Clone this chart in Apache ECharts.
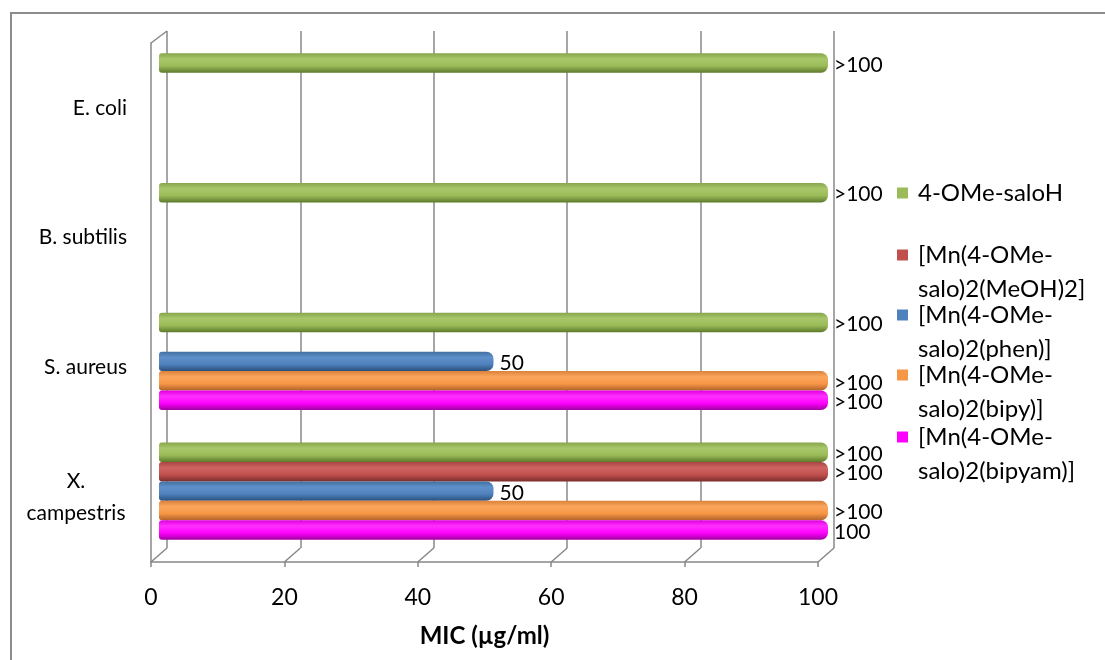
<!DOCTYPE html>
<html>
<head>
<meta charset="utf-8">
<script src="https://cdn.jsdelivr.net/npm/echarts@6/dist/echarts.min.js"></script>
<style>
  html, body { margin: 0; padding: 0; background: #fff; }
  #wrap { position: relative; width: 1105px; height: 660px; overflow: hidden; }
  #chart { position: absolute; left: 0; top: 0; width: 1105px; height: 660px; }
  #frame { position: absolute; left: 10px; top: 12px; width: 1200px; height: 700px;
           border-top: 2px solid #8c8c8c; border-left: 2px solid #8c8c8c; pointer-events: none; }
</style>
</head>
<body>
<div id="wrap"><div id="chart"></div><div id="frame"></div></div>
<script>
// ---- data ----
const categories = ['X. campestris', 'S. aureus', 'B. subtilis', 'E. coli'];
const seriesNames = ['4-OMe-saloH', '[Mn(4-OMe-salo)2(MeOH)2]', '[Mn(4-OMe-salo)2(phen)]', '[Mn(4-OMe-salo)2(bipy)]', '[Mn(4-OMe-salo)2(bipyam)]'];
const salohValues  = [100, 100, 100, 100];
const meohValues   = [100, null, null, null];
const phenValues   = [50, 50, null, null];
const bipyValues   = [100, 100, null, null];
const bipyamValues = [100, 100, null, null];
const salohLabels  = ['>100', '>100', '>100', '>100'];
const meohLabels   = ['>100', '', '', ''];
const phenLabels   = ['50', '50', '', ''];
const bipyLabels   = ['>100', '>100', '', ''];
const bipyamLabels = ['100', '>100', '', ''];
const xTicks = [0, 20, 40, 60, 80, 100];
const legendTexts = ['4-OMe-saloH', '[Mn(4-OMe-\nsalo)2(MeOH)2]', '[Mn(4-OMe-\nsalo)2(phen)]', '[Mn(4-OMe-\nsalo)2(bipy)]', '[Mn(4-OMe-\nsalo)2(bipyam)]'];

// ---- styles ----
const FONT = 'Lato';
const base = ['#9BBB59', '#C0504D', '#4F81BD', '#F79646', '#FF00FF'];
const grads = [
  ['#87a54c', '#a9c76a', '#9bbb59', '#5e7a2b'],
  ['#a64441', '#cf6461', '#c0504d', '#7a2e2c'],
  ['#41709f', '#5f90cb', '#4f81bd', '#2b4f7c'],
  ['#dc823a', '#fba65e', '#f79646', '#b0612a'],
  ['#e000e0', '#ff30ff', '#ff00ff', '#a000a0']
];
const valueSets = [salohValues, meohValues, phenValues, bipyValues, bipyamValues];
const labelSets = [salohLabels, meohLabels, phenLabels, bipyLabels, bipyamLabels];

function grad(c) {
  return new echarts.graphic.LinearGradient(0, 0, 0, 1, [
    { offset: 0, color: c[0] }, { offset: 0.3, color: c[1] },
    { offset: 0.65, color: c[2] }, { offset: 1, color: c[3] }
  ]);
}

// layout (px)
const BACK = { left: 167, top: 31, width: 667, height: 517 };
const BAR = { left: 159, top: 37, width: 669, height: 519 };
const FRONT = { left: 151, top: 43, width: 667, height: 519 };
const GRID_COLOR = '#888888';

const series = seriesNames.map((name, i) => ({
  name: name,
  type: 'bar',
  xAxisIndex: 0, yAxisIndex: 0,
  data: valueSets[i],
  barGap: '0%',
  barCategoryGap: '25%',
  itemStyle: { color: grad(grads[i]), borderRadius: [3, 7, 7, 3] },
  label: {
    show: true, position: 'right', distance: 6, color: '#000',
    fontFamily: FONT, fontSize: 21, offset: [0, 2],
    formatter: (p) => labelSets[i][p.dataIndex]
  },
  emphasis: { disabled: true },
  silent: true
}));

const L = 34;
const legendCenters = [193, 255, 315, 375, 437];
const legends = seriesNames.map((name, k) => {
  const twoLine = legendTexts[k].indexOf('\n') >= 0;
  return {
    left: 897,
    top: twoLine ? legendCenters[k] - 1.5 * L : legendCenters[k] - L / 2,
    orient: 'vertical',
    padding: 0,
    itemWidth: 11, itemHeight: 11,
    icon: 'rect',
    selectedMode: false,
    data: [{ name: name, itemStyle: { color: base[k] } }],
    formatter: () => (twoLine ? '\u00a0\n' : '') + legendTexts[k],
    textStyle: {
      fontFamily: FONT, fontSize: 24, color: '#000', lineHeight: L,
      padding: [0, 0, 0, 5]
    }
  };
});

const option = {
  animation: false,
  backgroundColor: '#fff',
  grid: [
    Object.assign({ containLabel: false }, BAR),
    Object.assign({ containLabel: false }, BACK),
    Object.assign({ containLabel: false }, FRONT)
  ],
  xAxis: [
    { gridIndex: 0, type: 'value', min: 0, max: 100, interval: 20, show: false },
    { gridIndex: 1, type: 'value', min: 0, max: 100, interval: 20,
      axisLine: { show: false }, axisTick: { show: false }, axisLabel: { show: false },
      splitLine: { show: true, lineStyle: { color: GRID_COLOR, width: 1.5 } } },
    { gridIndex: 2, type: 'value', min: 0, max: 100, interval: 20,
      axisLine: { show: true, lineStyle: { color: GRID_COLOR, width: 1.5 } },
      axisTick: { show: true, length: 5, lineStyle: { color: GRID_COLOR, width: 1.5 } },
      splitLine: { show: false },
      axisLabel: { show: true, color: '#000', fontFamily: FONT, fontSize: 23, margin: 24,
        formatter: (v) => xTicks.indexOf(v) >= 0 ? String(v) : '' },
      name: 'MIC (µg/ml)', nameLocation: 'middle', nameGap: 62,
      nameTextStyle: { fontFamily: FONT, fontSize: 24, fontWeight: 'bold', color: '#000' } }
  ],
  yAxis: [
    { gridIndex: 0, type: 'category', data: categories, show: false },
    { gridIndex: 1, type: 'category', data: categories, show: false },
    { gridIndex: 2, type: 'category', data: categories,
      axisLine: { show: true, lineStyle: { color: GRID_COLOR, width: 1.5 } },
      axisTick: { show: false }, splitLine: { show: false },
      axisLabel: {
        show: true, margin: 24, color: '#000', fontFamily: FONT, fontSize: 21,
        formatter: (v) => {
          const parts = v.split(' ');
          if (v.length > 12) return '{c|' + parts[0] + '}\n{c|' + parts.slice(1).join(' ') + '}';
          return '{n|' + v + '}';
        },
        rich: {
          c: { width: 102, align: 'center', fontFamily: FONT, fontSize: 21, lineHeight: 32, color: '#000' },
          n: { fontFamily: FONT, fontSize: 21, color: '#000' }
        }
      } }
  ],
  legend: legends,
  series: series
};

const chart = echarts.init(document.getElementById('chart'), null, { renderer: 'canvas' });
chart.setOption(option);

// 3D floor/wall connectors derived from the axis scales
const lines = [];
const lineStyle = { stroke: GRID_COLOR, lineWidth: 1.5 };
const backBottom = BACK.top + BACK.height;
const frontBottom = FRONT.top + FRONT.height;
xTicks.forEach((v) => {
  const xb = chart.convertToPixel({ xAxisIndex: 1 }, v);
  const xf = chart.convertToPixel({ xAxisIndex: 2 }, v);
  lines.push({ type: 'line', silent: true, shape: { x1: xb, y1: backBottom, x2: xf, y2: frontBottom }, style: lineStyle });
});
const xb0 = chart.convertToPixel({ xAxisIndex: 1 }, 0);
const xf0 = chart.convertToPixel({ xAxisIndex: 2 }, 0);
lines.push({ type: 'line', silent: true, shape: { x1: xf0, y1: FRONT.top, x2: xb0, y2: BACK.top }, style: lineStyle });
chart.setOption({ graphic: lines });
</script>
</body>
</html>
